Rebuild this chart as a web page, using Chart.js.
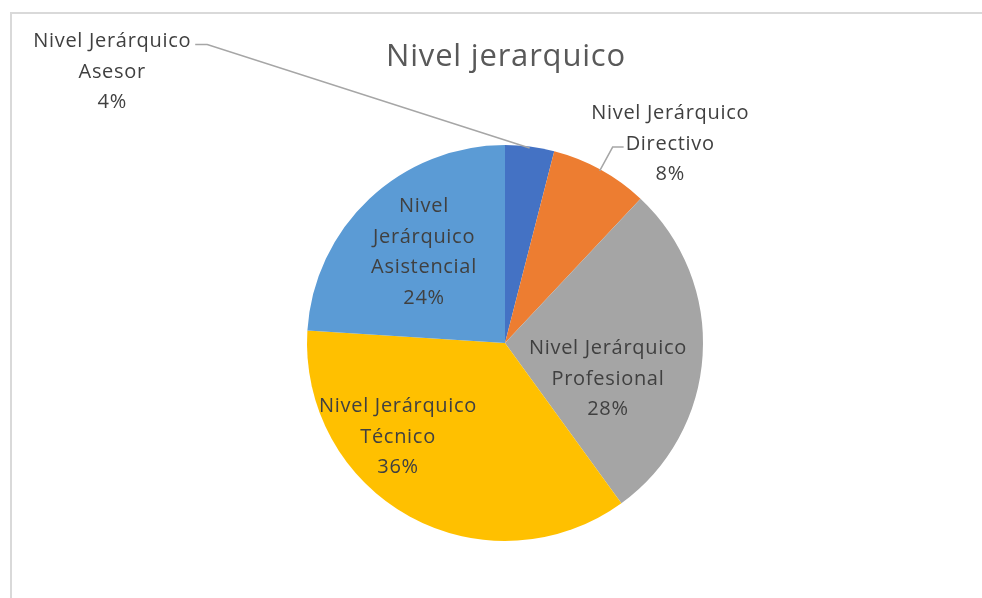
<!DOCTYPE html>
<html>
<head>
<meta charset="utf-8">
<script src="https://cdn.jsdelivr.net/npm/chart.js@4.4.0/dist/chart.umd.min.js"></script>
<style>
    html, body { margin: 0; padding: 0; background: #ffffff; }
    canvas { display: block; }
</style>
</head>
<body>
<canvas id="graficoNivel" width="982" height="598"></canvas>
<script>
// Datos
const titulo = "Nivel jerarquico";
const prefijo = "Nivel Jerárquico";
const categorias = ["Asesor", "Directivo", "Profesional", "Técnico", "Asistencial"];
const porcentajes = [4, 8, 28, 36, 24];
const colores = ["#4472c4", "#ed7d31", "#a5a5a5", "#ffc000", "#5b9bd5"];

// Ubicación de las etiquetas (ángulo desde arriba en grados, radio relativo)
const posEtiquetas = [
    { ang: 304.6, r: 2.41, guia: { linea: 0, lado: "der" } },
    { ang: 39.7, r: 1.306, guia: { linea: 1, lado: "izq" } },
    { ang: 109.3, r: 0.551 },
    { ang: 228.7, r: 0.719 },
    { ang: 318.3, r: 0.615, partir: true }
];

const fuente = "'Open Sans', sans-serif";
const altoLinea = 30.5;

const marcoYEtiquetas = {
    id: "marcoYEtiquetas",
    beforeDraw(chart) {
        const ctx = chart.ctx;
        ctx.save();
        ctx.strokeStyle = "#d9d9d9";
        ctx.lineWidth = 2;
        ctx.beginPath();
        ctx.moveTo(11, chart.height);
        ctx.lineTo(11, 13);
        ctx.lineTo(chart.width, 13);
        ctx.stroke();
        ctx.restore();
    },
    afterDatasetsDraw(chart) {
        const ctx = chart.ctx;
        const arcos = chart.getDatasetMeta(0).data;
        const cx = arcos[0].x, cy = arcos[0].y, R = arcos[0].outerRadius;

        ctx.save();
        // título
        ctx.fillStyle = "#595959";
        ctx.font = "31px " + fuente;
        ctx.letterSpacing = "0.8px";
        ctx.textAlign = "center";
        ctx.textBaseline = "middle";
        ctx.fillText(titulo, cx + 1, 57);

        ctx.font = "20px " + fuente;
        ctx.letterSpacing = "0.7px";
        arcos.forEach((arco, i) => {
            const p = posEtiquetas[i];
            const a = p.ang * Math.PI / 180;
            const x = cx + Math.sin(a) * p.r * R;
            const y = cy - Math.cos(a) * p.r * R;
            const lineas = p.partir
                ? prefijo.split(" ").concat([categorias[i]])
                : [prefijo, categorias[i]];
            lineas.push(porcentajes[i] + "%");
            const y0 = y - (lineas.length - 1) * altoLinea / 2;

            ctx.fillStyle = "#404040";
            lineas.forEach((t, k) => ctx.fillText(t, x, y0 + k * altoLinea));

            if (p.guia) {
                const t = lineas[p.guia.linea];
                const w = ctx.measureText(t).width;
                const ly = y0 + p.guia.linea * altoLinea + 3;
                const medio = (arco.startAngle + arco.endAngle) / 2;
                const ex = arco.x + Math.cos(medio) * (R - 1.5);
                const ey = arco.y + Math.sin(medio) * (R - 1.5);
                let x1, x2;
                if (p.guia.lado === "der") {
                    x1 = x + w / 2 + 4;
                    x2 = x1 + 12;
                } else {
                    x1 = x - w / 2 - 2;
                    x2 = x1 - 11;
                }
                ctx.strokeStyle = "#a6a6a6";
                ctx.lineWidth = 1.5;
                ctx.beginPath();
                ctx.moveTo(x1, ly);
                ctx.lineTo(x2, ly);
                ctx.lineTo(ex, ey);
                ctx.stroke();
            }
        });
        ctx.restore();
    }
};

const ctx = document.getElementById("graficoNivel").getContext("2d");
new Chart(ctx, {
    type: "pie",
    data: {
        labels: categorias.map(c => prefijo + " " + c),
        datasets: [{
            data: porcentajes,
            backgroundColor: colores,
            borderWidth: 0
        }]
    },
    options: {
        responsive: false,
        animation: false,
        layout: {
            padding: { left: 307, right: 279, top: 145, bottom: 57 }
        },
        plugins: {
            legend: { display: false },
            tooltip: { enabled: false },
            title: { display: false }
        }
    },
    plugins: [marcoYEtiquetas]
});
</script>
</body>
</html>
